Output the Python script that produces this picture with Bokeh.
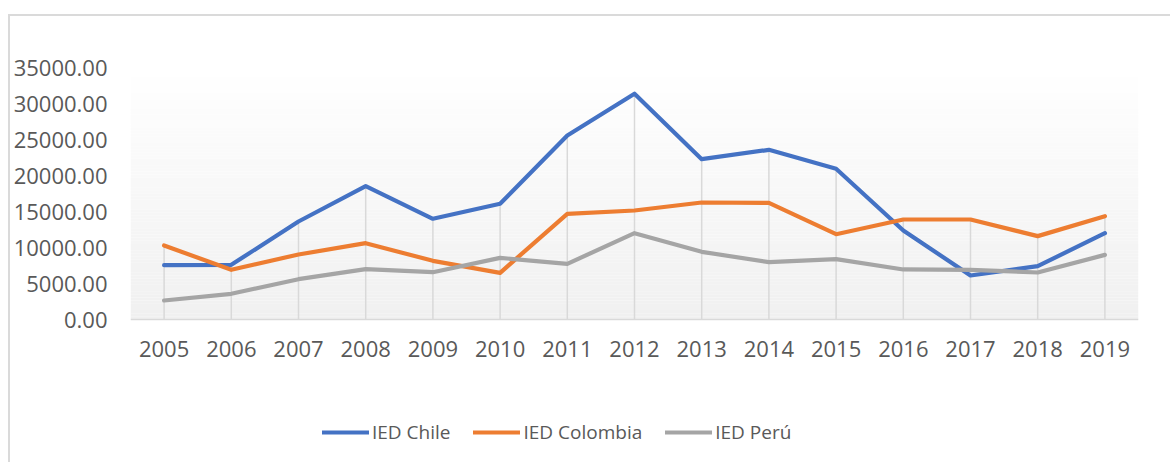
from bokeh.plotting import figure
from bokeh.models import (Range1d, FixedTicker, PrintfTickFormatter, Legend, LegendItem)
from bokeh.embed import file_html
from bokeh.resources import INLINE

years = ["2005", "2006", "2007", "2008", "2009", "2010", "2011", "2012",
         "2013", "2014", "2015", "2016", "2017", "2018", "2019"]
chile = [7540, 7600, 13610, 18520, 13990, 16070, 25560, 31350,
         22270, 23570, 20930, 12360, 6110, 7410, 11990]
colombia = [10280, 6900, 9030, 10600, 8150, 6480, 14680, 15140,
            16250, 16200, 11850, 13890, 13890, 11580, 14350]
peru = [2640, 3570, 5600, 6990, 6570, 8560, 7730, 11990,
        9400, 7960, 8380, 6950, 6900, 6530, 8980]
y_ticks = [0, 5000, 10000, 15000, 20000, 25000, 30000, 35000]
labels = ["IED Chile", "IED Colombia", "IED Perú"]
colors = ["#4472C4", "#ED7D31", "#A5A5A5"]

FONT = "Open Sans"
TXT = "#595959"

W, H = 1170, 462
F_LEFT, F_RIGHT, F_TOP = 130, 1138, 67
AXIS_Y = 319  # pixel row of value 0
xs = list(range(len(years)))
ymax = y_ticks[-1]
ymin = -(H - AXIS_Y) / (AXIS_Y - F_TOP) * ymax  # frame extends below the axis for the legend

p = figure(width=W, height=H, output_backend="svg", toolbar_location=None,
           x_range=Range1d(-0.5, len(years) - 0.5), y_range=Range1d(ymin, ymax),
           min_border_left=F_LEFT, min_border_right=W - F_RIGHT, min_border_top=F_TOP,
           min_border_bottom=0)
p.border_fill_color = None
p.background_fill_color = None
p.outline_line_color = None
p.styles = {
    "background": "linear-gradient(#DADADA,#DADADA) 8px 14px / 100% 2px no-repeat, "
                  "linear-gradient(#DADADA,#DADADA) 8px 14px / 2px 100% no-repeat, white"
}

# gradient plot-area background (decoration derived from the axis range)
n = 80
bottoms = [ymax * i / n for i in range(n)]
tops = [ymax * (i + 1) / n for i in range(n)]
def grad(t):
    lo, hi = 0xF0, 0xFF
    v = int(round(lo + (hi - lo) * t))
    return "#%02x%02x%02x" % (v, v, v)
gcols = [grad((i + 0.5) / n) for i in range(n)]
p.quad(left=-0.5, right=len(years) - 0.5, bottom=bottoms, top=tops,
       fill_color=gcols, line_color=None)

# drop lines
drop_top = [max(a, b, c) for a, b, c in zip(chile, colombia, peru)]
p.segment(x0=xs, y0=0, x1=xs, y1=drop_top, line_color="#D9D9D9", line_width=1.5)

rs = []
for vals, col in zip([chile, colombia, peru], colors):
    r = p.line(xs, vals, line_color=col, line_width=4.2,
               line_join="round", line_cap="round")
    rs.append(r)

p.xgrid.grid_line_color = None
p.ygrid.grid_line_color = None

xa = p.xaxis[0]
xa.fixed_location = 0
xa.ticker = FixedTicker(ticks=xs)
xa.major_label_overrides = {i: y for i, y in enumerate(years)}
xa.axis_line_color = "#D9D9D9"
xa.axis_line_width = 1.5
xa.major_tick_line_color = None
xa.minor_tick_line_color = None
xa.major_label_standoff = 15
xa.major_label_text_font = FONT
xa.major_label_text_font_size = "22px"
xa.major_label_text_color = TXT

ya = p.yaxis[0]
ya.ticker = FixedTicker(ticks=y_ticks)
ya.formatter = PrintfTickFormatter(format="%.2f")
ya.axis_line_color = None
ya.major_tick_line_color = None
ya.minor_tick_line_color = None
ya.major_label_standoff = 17
ya.major_label_text_font = FONT
ya.major_label_text_font_size = "22px"
ya.major_label_text_color = TXT

legend = Legend(items=[LegendItem(label=l, renderers=[r]) for l, r in zip(labels, rs)],
                orientation="horizontal", location=(192, 17),
                glyph_width=47, glyph_height=24, label_height=24,
                label_standoff=3, spacing=23, padding=0, margin=0,
                border_line_color=None, background_fill_alpha=0,
                label_text_font=FONT, label_text_font_size="19px",
                label_text_color=TXT)
p.add_layout(legend)

open("out.html", "w").write(file_html(p, INLINE))
